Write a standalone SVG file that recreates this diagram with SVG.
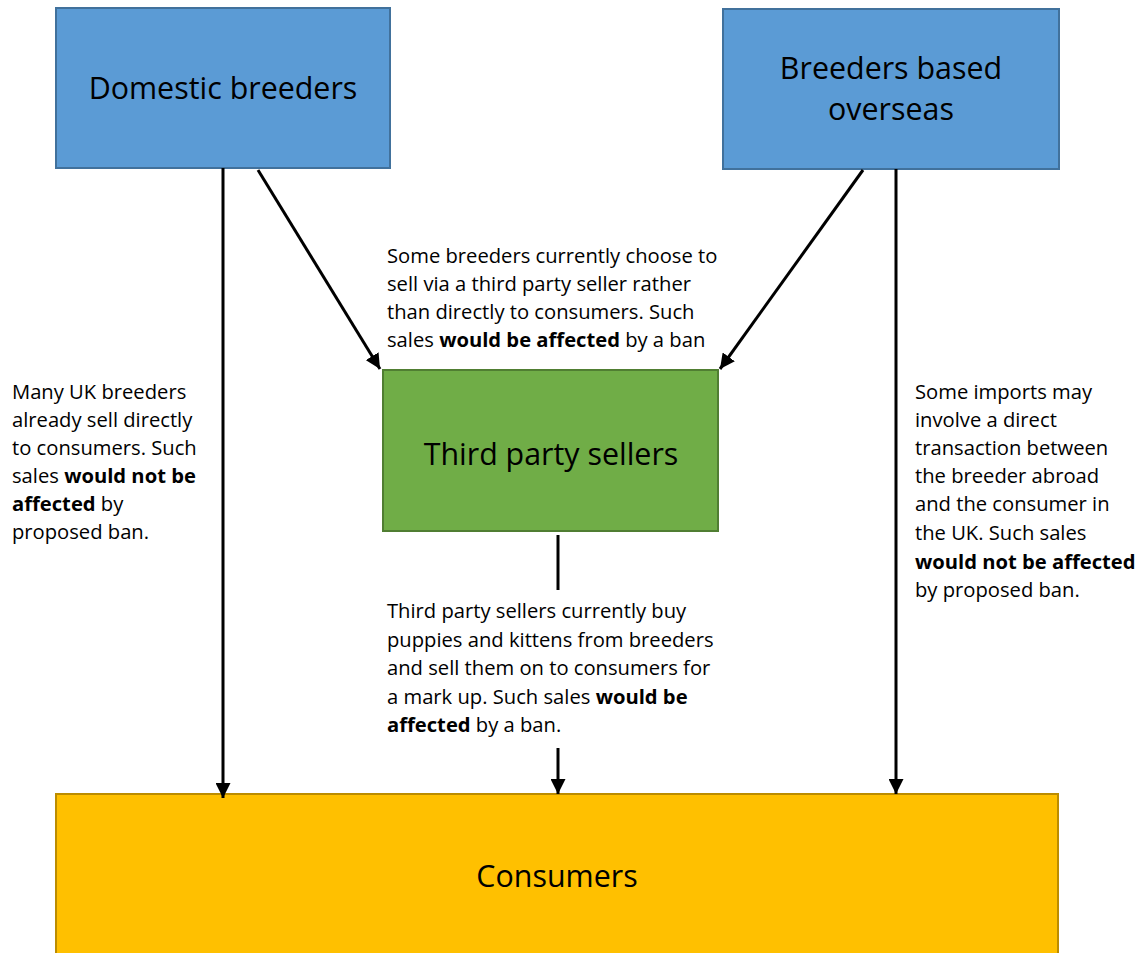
<svg xmlns="http://www.w3.org/2000/svg" width="1137" height="953" viewBox="0 0 1137 953">
<defs>
<marker id="ah" viewBox="0 0 10 10" refX="10" refY="5" markerWidth="5" markerHeight="5" orient="auto" markerUnits="strokeWidth">
<path d="M0,0 L10,5 L0,10 z" fill="#000"/>
</marker>
<style>
.blue{fill:#5B9BD5;stroke:#41719C;stroke-width:2}
.green{fill:#70AD47;stroke:#507E32;stroke-width:2}
.orange{fill:#FFC000;stroke:#BC8C00;stroke-width:2}
.title{font-family:"Open Sans",Lato,"Liberation Sans",sans-serif;font-size:30.4px;fill:#000;text-anchor:middle}
.note{font-family:"Open Sans",Lato,"Liberation Sans",sans-serif;font-size:20.2px;fill:#000}
.b{font-weight:bold}
.conn{stroke:#000;stroke-width:3;fill:none}
</style>
</defs>
<rect width="1137" height="953" fill="#fff"/>
<g id="domestic">
<rect class="blue" x="56" y="8" width="334" height="160"/>
<text class="title" x="223" y="99">Domestic breeders</text>
</g>
<g id="overseas">
<rect class="blue" x="723" y="9" width="336" height="160"/>
<text class="title" x="891" y="79">Breeders based</text>
<text class="title" x="891" y="120">overseas</text>
</g>
<g id="thirdparty">
<rect class="green" x="383" y="370" width="335" height="161"/>
<text class="title" x="551" y="465">Third party sellers</text>
</g>
<g id="consumers">
<rect class="orange" x="56" y="794" width="1002" height="170"/>
<text class="title" x="557" y="887">Consumers</text>
</g>
<g id="connectors">
<line class="conn" x1="223" y1="168" x2="223" y2="798" marker-end="url(#ah)"/>
<line class="conn" x1="258" y1="170" x2="380" y2="369" marker-end="url(#ah)"/>
<line class="conn" x1="863" y1="170" x2="720" y2="369" marker-end="url(#ah)"/>
<line class="conn" x1="896" y1="169" x2="896" y2="794" marker-end="url(#ah)"/>
<line class="conn" x1="558" y1="535" x2="558" y2="590"/>
<line class="conn" x1="558" y1="748" x2="558" y2="794" marker-end="url(#ah)"/>
</g>
<g id="labels">
<text class="note" x="387" y="263">Some breeders currently choose to</text>
<text class="note" x="387" y="291">sell via a third party seller rather</text>
<text class="note" x="387" y="319">than directly to consumers. Such</text>
<text class="note" x="387" y="347">sales <tspan class="b">would be affected</tspan> by a ban</text>

<text class="note" x="12" y="399">Many UK breeders</text>
<text class="note" x="12" y="427">already sell directly</text>
<text class="note" x="12" y="455">to consumers. Such</text>
<text class="note" x="12" y="483">sales <tspan class="b">would not be</tspan></text>
<text class="note" x="12" y="511"><tspan class="b">affected</tspan> by</text>
<text class="note" x="12" y="539">proposed ban.</text>

<text class="note" x="915" y="399">Some imports may</text>
<text class="note" x="915" y="427">involve a direct</text>
<text class="note" x="915" y="455">transaction between</text>
<text class="note" x="915" y="483">the breeder abroad</text>
<text class="note" x="915" y="511">and the consumer in</text>
<text class="note" x="915" y="540">the UK. Such sales</text>
<text class="note" x="915" y="569"><tspan class="b">would not be affected</tspan></text>
<text class="note" x="915" y="597">by proposed ban.</text>

<text class="note" x="387" y="618">Third party sellers currently buy</text>
<text class="note" x="387" y="647">puppies and kittens from breeders</text>
<text class="note" x="387" y="675">and sell them on to consumers for</text>
<text class="note" x="387" y="704">a mark up. Such sales <tspan class="b">would be</tspan></text>
<text class="note" x="387" y="732"><tspan class="b">affected</tspan> by a ban.</text>
</g>
</svg>
